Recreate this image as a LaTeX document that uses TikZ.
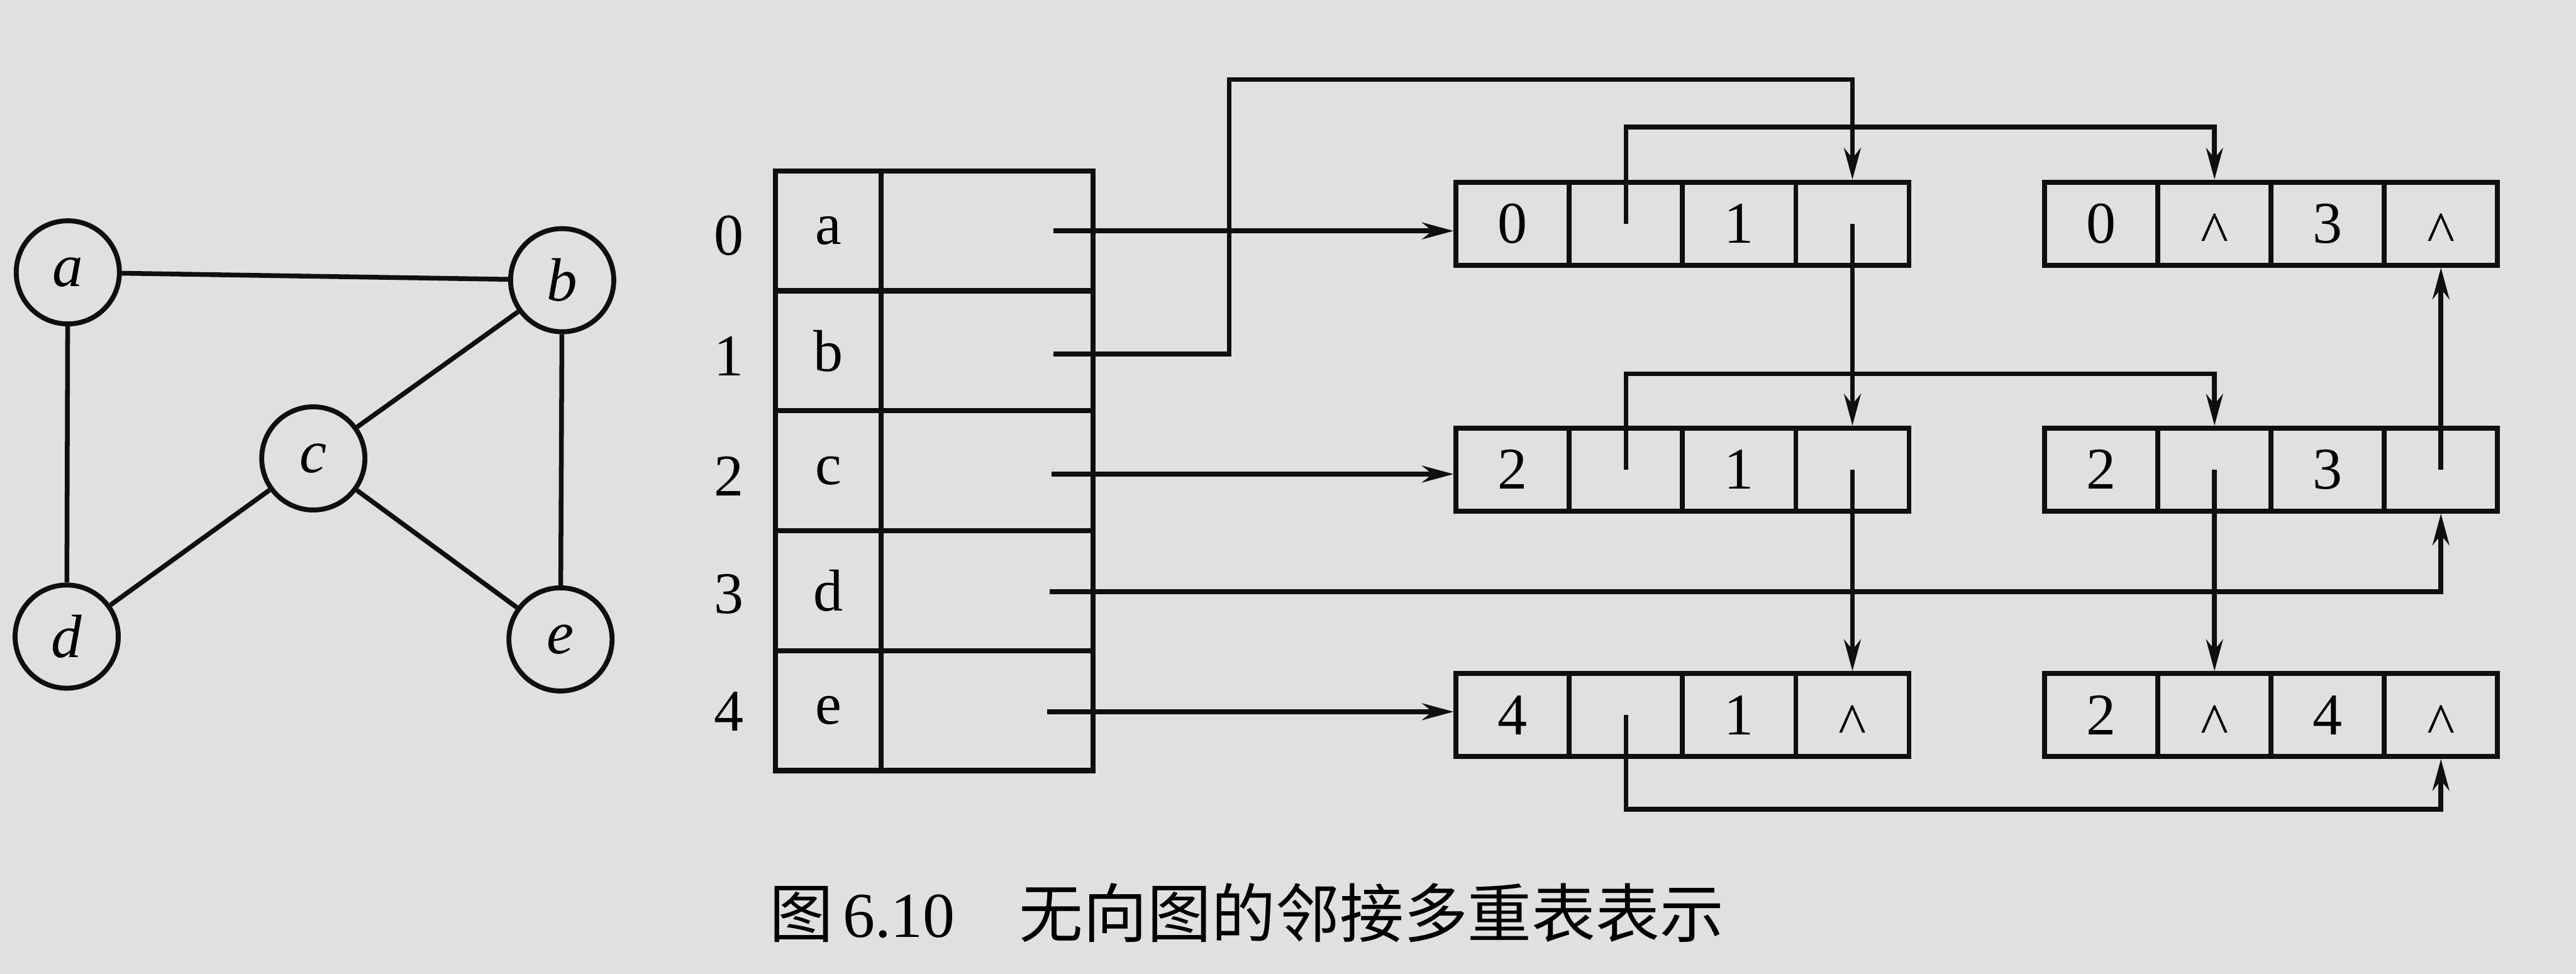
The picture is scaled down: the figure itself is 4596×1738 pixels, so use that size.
\documentclass[tikz,border=0pt]{standalone}
\usepackage{fontspec}
\setmainfont{Liberation Serif}
\newfontfamily\cjkfont{Noto Sans CJK SC}
\usetikzlibrary{arrows.meta}
\definecolor{bg}{RGB}{224,224,224}
\definecolor{ink}{RGB}{15,15,15}
\newcommand\myLfont{\fontsize{30pt}{36pt}\selectfont}
\newcommand\myGfont{\fontsize{31pt}{37pt}\selectfont\itshape}
\newcommand\myCapfont{\fontsize{32.5pt}{40pt}\selectfont}
\newcommand\caretsym{\raisebox{-0.49em}[0pt][0pt]{\textasciicircum}}
\newcommand\mlist[7]{%
  \node[cell] (#1-1) at ({#2+101},#3) {#4};
  \node[cell] (#1-2) at ({#2+303},#3) {#5};
  \node[cell] (#1-3) at ({#2+505},#3) {#6};
  \node[cell] (#1-4) at ({#2+707},#3) {#7};}
\begin{document}
\begin{tikzpicture}[x=0.01cm,y=-0.01cm,
  gnode/.style={circle, draw=ink, line width=2.5pt, minimum size=1.84cm, inner sep=0pt, font=\myGfont},
  edge/.style={draw=ink, line width=2.4pt},
  cell/.style={draw=ink, line width=2.5pt, minimum width=2.02cm, minimum height=1.48cm, inner sep=0pt, font=\myLfont},
  tcell/.style={draw=ink, line width=2.6pt, minimum height=2.14cm, inner sep=0pt, font=\myLfont},
  lab/.style={inner sep=0pt, font=\myLfont},
  arr/.style={draw=ink, -{Stealth[length=16pt,width=8.5pt]}, line width=2.5pt}]
\fill[bg] (0,0) rectangle (4596,1738);
\useasboundingbox (0,0) rectangle (4596,1738);

% ---- graph ----
\node[gnode] (a) at (121,486) {a};
\node[gnode] (b) at (1003,500) {b};
\node[gnode] (c) at (559,818) {c};
\node[gnode] (d) at (119,1136) {d};
\node[gnode] (e) at (1000,1141) {e};
\draw[edge] (a) -- (b);
\draw[edge] (a) -- (d);
\draw[edge] (b) -- (c);
\draw[edge] (b) -- (e);
\draw[edge] (c) -- (d);
\draw[edge] (c) -- (e);

% ---- vertex table ----
\node[tcell, minimum width=1.88cm] (Ta) at (1478,412) {a};
\node[tcell, minimum width=3.78cm] (Pa) at (1761,412) {};
\node[tcell, minimum width=1.88cm] (Tb) at (1478,626) {b};
\node[tcell, minimum width=3.78cm] (Pb) at (1761,626) {};
\node[tcell, minimum width=1.88cm] (Tc) at (1478,840) {c};
\node[tcell, minimum width=3.78cm] (Pc) at (1761,840) {};
\node[tcell, minimum width=1.88cm] (Td) at (1478,1054) {d};
\node[tcell, minimum width=3.78cm] (Pd) at (1761,1054) {};
\node[tcell, minimum width=1.88cm] (Te) at (1478,1268) {e};
\node[tcell, minimum width=3.78cm] (Pe) at (1761,1268) {};

\node[lab] (i0) at (1300,420) {0};
\node[lab] (i1) at (1300,636) {1};
\node[lab] (i2) at (1300,850) {2};
\node[lab] (i3) at (1300,1060) {3};
\node[lab] (i4) at (1300,1270) {4};

% ---- edge nodes ----
\mlist{L0}{2598}{399}{0}{}{1}{}
\mlist{R0}{3648}{399}{0}{\caretsym}{3}{\caretsym}
\mlist{L1}{2598}{838}{2}{}{1}{}
\mlist{R1}{3648}{838}{2}{}{3}{}
\mlist{L2}{2598}{1276}{4}{}{1}{\caretsym}
\mlist{R2}{3648}{1276}{2}{\caretsym}{4}{\caretsym}

% ---- pointer start points and bends ----
\coordinate (sa) at (1880,412);
\coordinate (sb) at (1880,632);
\coordinate (sc) at (1876,846);
\coordinate (sd) at (1873,1056);
\coordinate (se) at (1868,1270);
\coordinate (kb) at (2193,142);
\coordinate (k0) at (3500,227);
\coordinate (k1) at (3500,667);
\coordinate (k2) at (3600,1444);

% ---- connectors ----
\draw[arr] (sa) -- (sa -| L0-1.west);
\draw[arr] (sb) -| (kb) -| (L0-4.north);
\draw[arr] (sc) -- (sc -| L1-1.west);
\draw[arr] (sd) -| (R1-4.south);
\draw[arr] (se) -- (se -| L2-1.west);
\draw[arr] (L0-2.center) |- (k0) -| (R0-2.north);
\draw[arr] (L0-4.center) -- (L1-4.north);
\draw[arr] (L1-2.center) |- (k1) -| (R1-2.north);
\draw[arr] (L1-4.center) -- (L2-4.north);
\draw[arr] (R1-2.center) -- (R2-2.north);
\draw[arr] (R1-4.center) -- (R0-4.south);
\draw[arr] (L2-2.center) |- (k2) -| (R2-4.south);

% ---- caption ----
\node[anchor=base west, inner sep=0pt, font=\myCapfont\cjkfont] (capfig) at (1372,1672) {图};
\node[anchor=base west, inner sep=0pt, font=\myCapfont] (capnum) at (1503,1672) {6.10};
\node[anchor=base west, inner sep=0pt, font=\myCapfont\cjkfont] (captitle) at (1818,1672) {无向图的邻接多重表表示};
\end{tikzpicture}
\end{document}
